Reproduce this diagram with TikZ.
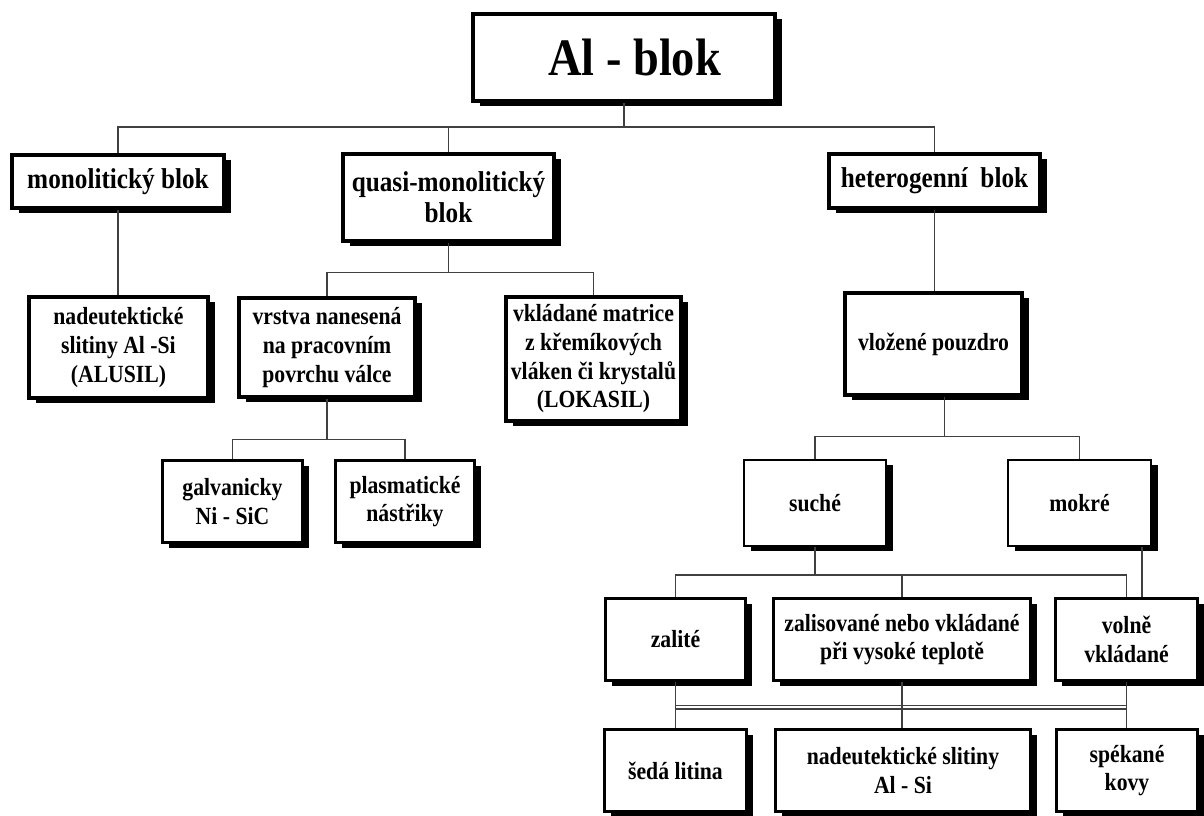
\documentclass[tikz,border=0pt]{standalone}
\usepackage{fontspec}
\setmainfont{Liberation Serif}[FakeStretch=0.88]
\usetikzlibrary{shadows}

\begin{document}
\begin{tikzpicture}[x=0.75pt,y=-0.75pt,
	blok/.style={draw,line width=#1,fill=white,align=center,inner sep=2pt,
		font=\fontsize{18.5}{21.5}\selectfont\bfseries,
		general shadow={fill=black,shadow xshift=5pt,shadow yshift=-4pt}},
	blok/.default=2.6pt,
	velky/.style={font=\fontsize{21.5}{23}\selectfont\bfseries},
	rozmer/.style 2 args={minimum width=#1*0.75pt,minimum height=#2*0.75pt},
	spoj/.style={line width=1pt,draw=black!75}]
	\useasboundingbox (0,0) rectangle (1204,816);
	% bloky
	\node[blok=3pt,rozmer={302}{87},font=\fontsize{39.5}{44}\selectfont\bfseries] (alblok) at (624,57.5) {\hspace*{16pt}Al - blok};
	\node[blok,velky,rozmer={212}{53}] (mono) at (118,181.5) {monolitický blok};
	\node[blok,velky,rozmer={211}{87}] (quasi) at (448.5,197.5) {quasi-monolitický\\blok};
	\node[blok,velky,rozmer={211}{54}] (hetero) at (934.5,181) {heterogenní\ \ blok};
	\node[blok,rozmer={179}{101}] (alusil) at (118.5,347.5) {nadeutektické\\slitiny Al -Si\\(ALUSIL)};
	\node[blok,rozmer={176}{99}] (vrstva) at (327,347.5) {vrstva nanesená\\na pracovním\\povrchu válce};
	\node[blok,rozmer={175}{124}] (lokasil) at (593.5,359) {vkládané matrice\\z křemíkových\\vláken či krystalů\\(LOKASIL)};
	\node[blok=2.2pt,rozmer={140}{82}] (galv) at (232.5,501.5) {galvanicky\\Ni - SiC};
	\node[blok=2.2pt,rozmer={139}{82}] (plasma) at (405,501.5) {plasmatické\\nástřiky};
	\node[blok,rozmer={177}{102}] (pouzdro) at (933.5,344) {vložené pouzdro};
	\node[blok=1.3pt,rozmer={142}{86}] (suche) at (815,503) {suché};
	\node[blok=1.3pt,rozmer={143}{86}] (mokre) at (1079.5,503) {mokré};
	\node[blok=1.9pt,rozmer={140}{82}] (zalite) at (675.5,639.5) {zalité};
	\node[blok=1.9pt,rozmer={257}{82}] (zalis) at (902,639.5) {zalisované nebo vkládané\\při vysoké teplotě};
	\node[blok=1.9pt,rozmer={142}{82}] (volne) at (1126.5,639.5) {volně\\vkládané};
	\node[blok=1.9pt,rozmer={142}{82}] (seda) at (675.5,770.5) {šedá litina};
	\node[blok=1.9pt,rozmer={255}{82}] (slitiny) at (903,770.5) {nadeutektické slitiny\\Al - Si};
	\node[blok=1.9pt,rozmer={141}{82}] (spekane) at (1127,770.5) {spékané\\kovy};
	% spoje
	\draw[spoj] (alblok.south) -- ++(0,24) coordinate (s1);
	\draw[spoj] (mono.north) |- (s1) -| (hetero.north);
	\draw[spoj] (quasi.north) -- (quasi.north |- s1);
	\draw[spoj] (mono.south) -- (mono.south |- alusil.north);
	\draw[spoj] (quasi.south) -- ++(0,30) coordinate (s2);
	\draw[spoj] (vrstva.north) |- (s2) -| (lokasil.north);
	\draw[spoj] (vrstva.south) -- ++(0,41) coordinate (s3);
	\draw[spoj] (galv.north) |- (s3) -| (plasma.north);
	\draw[spoj] (hetero.south) -- (hetero.south |- pouzdro.north);
	\draw[spoj] ([xshift=8pt]pouzdro.south) -- ++(0,40) coordinate (s4);
	\draw[spoj] (suche.north) |- (s4) -| (mokre.north);
	\draw[spoj] (suche.south) -- ++(0,28) coordinate (s5);
	\draw[spoj] (zalite.north) |- (s5) -| (volne.north);
	\draw[spoj] (zalis.north) -- (zalis.north |- s5);
	\coordinate (m1) at ([xshift=-7.5pt]mokre.south east);
	\draw[spoj] (m1) -- (m1 |- volne.north);
	\draw[spoj] (zalite.south) -- (zalite.south |- seda.north);
	\draw[spoj] (zalis.south) -- (zalis.south |- slitiny.north);
	\draw[spoj] (volne.south) -- (volne.south |- spekane.north);
	\draw[spoj] ([yshift=-18pt]zalite.south) -- ([yshift=-18pt]zalite.south -| volne.south);
	\draw[spoj] ([yshift=-20.5pt]zalite.south) -- ([yshift=-20.5pt]zalite.south -| volne.south);
\end{tikzpicture}
\end{document}
